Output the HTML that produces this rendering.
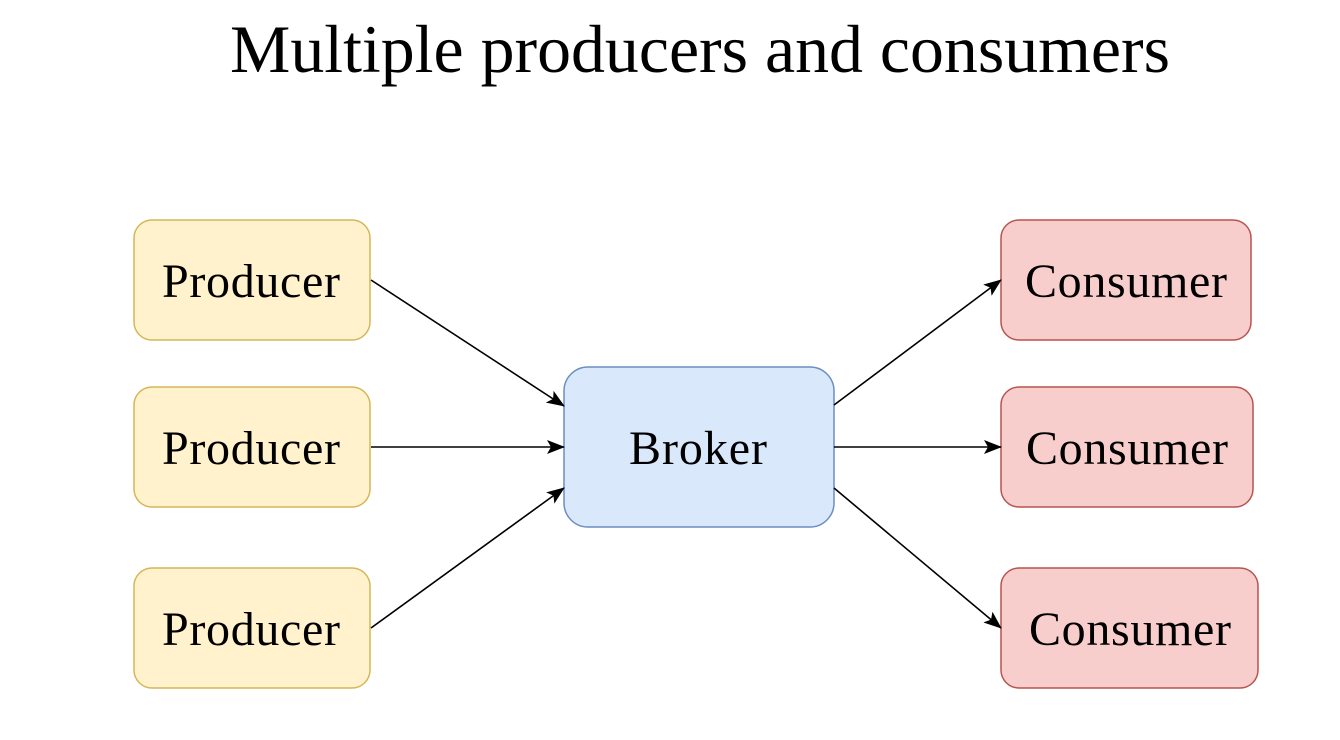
<!DOCTYPE html>
<html><head><meta charset="utf-8"><style>
body{margin:0;background:#fff;}
svg text{font-family:"Liberation Serif",serif;}
</style></head><body>
<svg width="1340" height="735" xmlns="http://www.w3.org/2000/svg">
<defs>
<marker id="m" markerWidth="18" markerHeight="14" refX="17" refY="7" orient="auto" markerUnits="userSpaceOnUse"><path d="M0,0 L18,7 L0,14 L4,7 Z" fill="#000"/></marker></defs>
<rect width="1340" height="735" fill="#fff"/>
<text x="700" y="72" font-size="68" text-anchor="middle" textLength="940" lengthAdjust="spacingAndGlyphs">Multiple producers and consumers</text>
<g stroke="#d6b656" fill="#fff2cc" stroke-width="1.5">
<rect x="134" y="220" width="236" height="120" rx="18"/>
<rect x="134" y="387" width="236" height="120" rx="18"/>
<rect x="134" y="568" width="236" height="120" rx="18"/>
</g>
<rect x="564" y="367" width="270" height="160" rx="24" fill="#dae8fc" stroke="#6c8ebf" stroke-width="1.5"/>
<g stroke="#b85450" fill="#f8cecc" stroke-width="1.5">
<rect x="1001" y="220" width="250" height="120" rx="18"/>
<rect x="1001" y="387" width="252" height="120" rx="18"/>
<rect x="1001" y="568" width="257" height="120" rx="18"/>
</g>
<g font-size="48" text-anchor="middle" fill="#000" lengthAdjust="spacingAndGlyphs">
<text x="251" y="297" textLength="178">Producer</text>
<text x="251" y="464" textLength="178">Producer</text>
<text x="251" y="645" textLength="178">Producer</text>
<text x="698" y="464" textLength="138">Broker</text>
<text x="1126" y="297" textLength="202">Consumer</text>
<text x="1127" y="464" textLength="202">Consumer</text>
<text x="1130" y="645" textLength="202">Consumer</text>
</g>
<g stroke="#000" stroke-width="1.6" marker-end="url(#m)" fill="none">
<line x1="371" y1="280" x2="564" y2="406"/>
<line x1="371" y1="447" x2="564" y2="447"/>
<line x1="371" y1="628" x2="564" y2="488"/>
<line x1="834" y1="405" x2="1001" y2="280"/>
<line x1="834" y1="447" x2="1001" y2="447"/>
<line x1="834" y1="488" x2="1001" y2="628"/>
</g>
</svg>
</body></html>
